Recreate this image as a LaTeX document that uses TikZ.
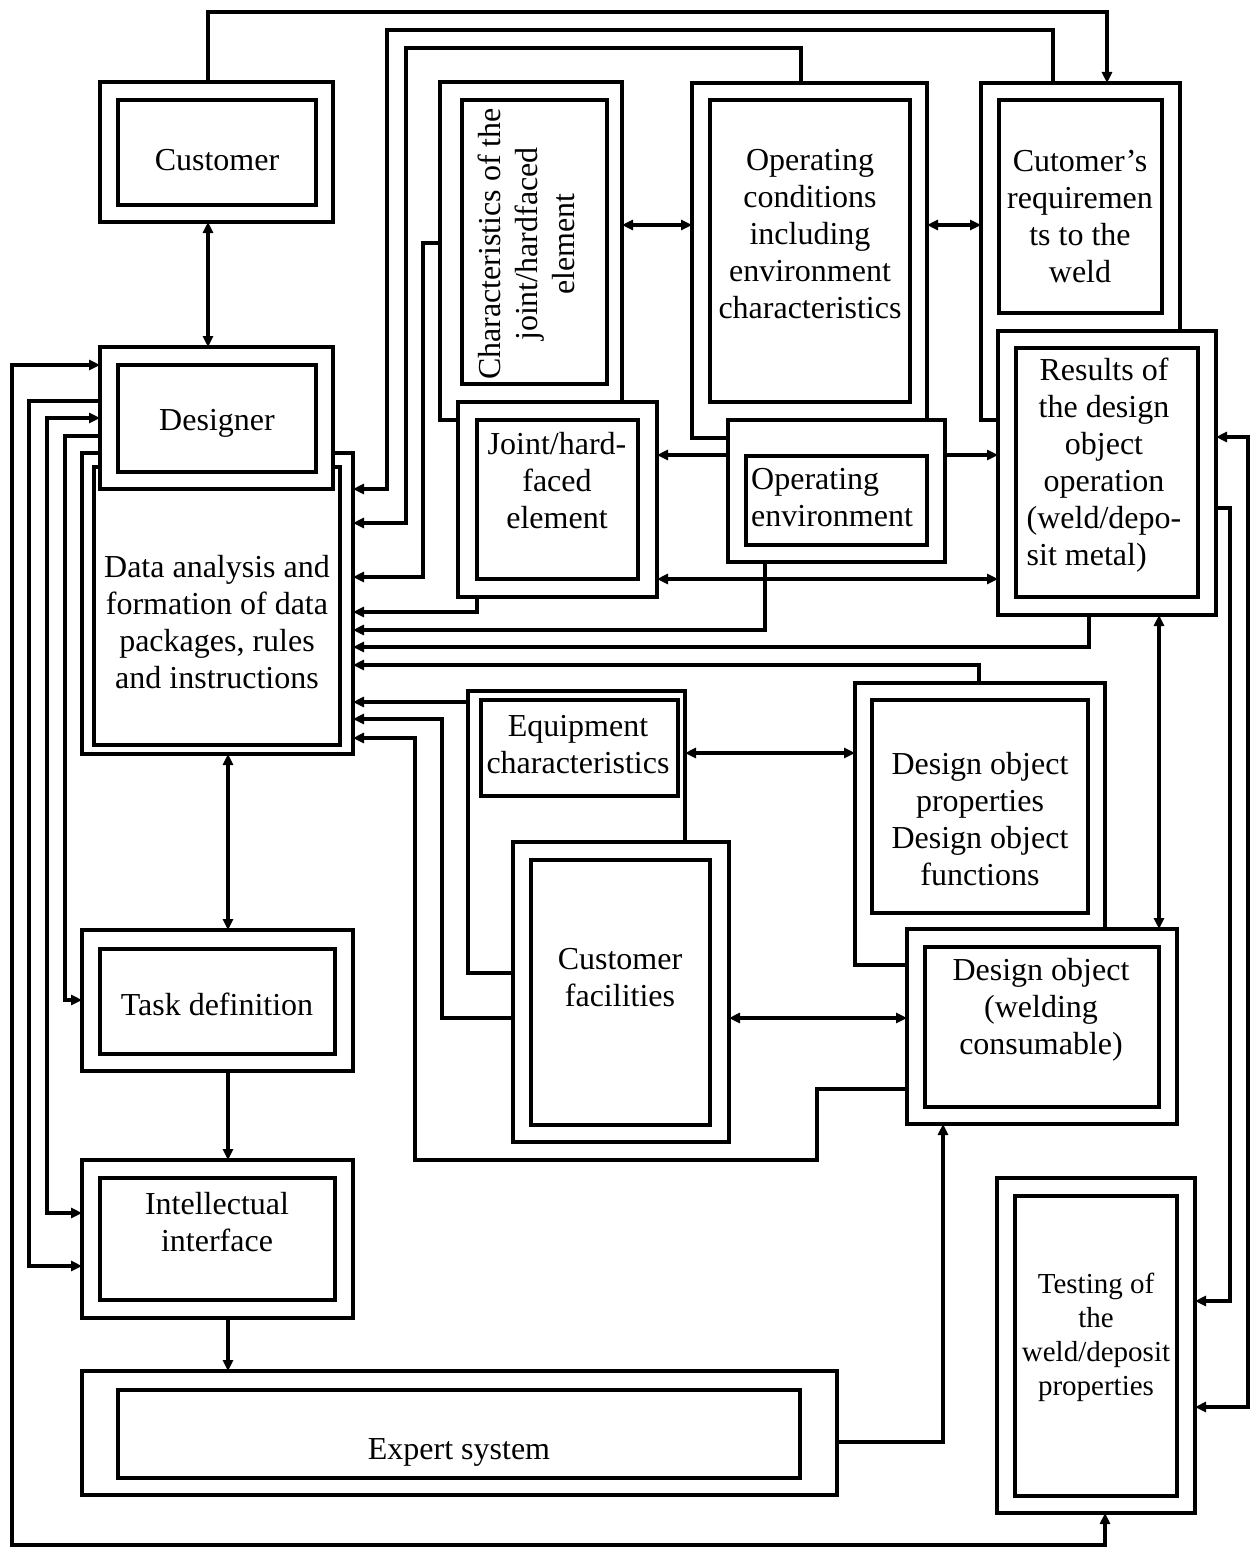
\documentclass[tikz,border=0pt]{standalone}
\usepackage{fontspec}
\setmainfont{Liberation Serif}
\usepackage{calc}
\usetikzlibrary{arrows.meta}
\newcommand{\bx}[6]{\node[#1, minimum width={#5-#3}, minimum height={#6-#4}] (#2) at ({(#3+#5)/2},{(#4+#6)/2}) {};}
\begin{document}
\begin{tikzpicture}[x=1pt,y=-1pt,
  obox/.style={draw,line width=4.3pt,fill=white,inner sep=0pt,outer sep=0pt},
  txt/.style={font=\fontsize{32}{37}\selectfont,align=center,inner sep=0pt},
  con/.style={line width=3.4pt},
  arr/.style={con,-{Triangle[length=11pt,width=10pt]}},
  darr/.style={con,{Triangle[length=11pt,width=10pt]}-{Triangle[length=11pt,width=10pt]}},
]
\useasboundingbox (0,0) rectangle (1253,1549);

% ---- boxes ----
\bx{obox}{cust}{100}{82}{333}{222}
\bx{obox}{custi}{118}{100}{316}{205}
\bx{obox}{da}{82}{453}{353}{754}
\bx{obox}{dai}{94}{467}{340}{745}
\bx{obox}{dsg}{100}{347}{333}{489}
\bx{obox}{dsgi}{118}{365}{316}{472}
\bx{obox}{chr}{440}{82}{622}{420}
\bx{obox}{chri}{462}{100}{607}{384}
\bx{obox}{jnt}{458}{402}{657}{597}
\bx{obox}{jnti}{477}{420}{638}{579}
\bx{obox}{opc}{692}{83}{927}{438}
\bx{obox}{opci}{710}{100}{910}{402}
\bx{obox}{ope}{728}{420}{945}{562}
\bx{obox}{opei}{746}{456}{927}{545}
\bx{obox}{crq}{981}{83}{1180}{420}
\bx{obox}{crqi}{999}{100}{1162}{313}
\bx{obox}{res}{998}{331}{1216}{615}
\bx{obox}{resi}{1016}{348}{1198}{597}
\bx{obox}{eqp}{468}{691}{685}{973}
\bx{obox}{eqpi}{481}{700}{678}{796}
\bx{obox}{cfc}{513}{842}{729}{1142}
\bx{obox}{cfci}{531}{860}{710}{1125}
\bx{obox}{dop}{855}{683}{1105}{965}
\bx{obox}{dopi}{872}{700}{1088}{913}
\bx{obox}{dob}{907}{929}{1177}{1124}
\bx{obox}{dobi}{925}{947}{1159}{1107}
\bx{obox}{tsk}{82}{930}{353}{1071}
\bx{obox}{tski}{100}{949}{335}{1054}
\bx{obox}{itf}{82}{1160}{353}{1318}
\bx{obox}{itfi}{100}{1178}{335}{1300}
\bx{obox}{exs}{82}{1371}{837}{1495}
\bx{obox}{exsi}{118}{1390}{800}{1478}
\bx{obox}{tst}{997}{1178}{1195}{1513}
\bx{obox}{tsti}{1015}{1196}{1177}{1496}

% ---- texts ----
\node[txt] (tcust) at (217,160) {Customer};
\node[txt] (tdsg) at (217,423) {Designer};
\node[txt] (tda) at (217,622) {Data analysis and\\formation of data\\packages, rules\\and instructions};
\node[txt,rotate=90] (tchr) at (526,244) {Characteristics of the\\joint/hardfaced\\element};
\node[txt] (topc) at (810,234) {Operating\\conditions\\including\\environment\\characteristics};
\node[txt] (tcrq) at (1080,217) {Cutomer's\\requiremen\\ts to the\\weld};
\node[txt] (tjnt) at (557,481) {Joint/hard-\\faced\\element};
\node[txt,align=left,anchor=west] (tope) at (751,498) {Operating\\environment};
\node[txt] (tres) at (1104,465) {Results of\\the design\\object\\operation\\(weld/depo-\\\makebox[\widthof{(weld/depo-}][l]{sit metal)}};
\node[txt] (teqp) at (578,745) {Equipment\\characteristics};
\node[txt] (tdop) at (980,819) {Design object\\properties\\Design object\\functions};
\node[txt] (tcfc) at (620,978) {Customer\\facilities};
\node[txt] (tdob) at (1041,1010) {Design object\\(welding\\consumable)};
\node[txt] (ttsk) at (217,1004) {Task definition};
\node[txt] (titf) at (217,1222) {Intellectual\\interface};
\node[txt] (texs) at (459,1452) {Expert system};
\node[txt,font=\fontsize{29}{34}\selectfont] (ttst) at (1096,1337) {Testing of\\the\\weld/deposit\\properties};

% ---- connectors ----
\draw[arr] (cust.north -| 208,0) -- (208,12) -| (crq.north -| 1107,0);
\draw[arr] (crq.north -| 1053,0) -- (1053,30) -| (387,489) -- (da.east |- 0,489);
\draw[arr] (opc.north -| 801,0) -- (801,48) -| (406,523) -- (da.east |- 0,523);
\draw[arr] (chr.west |- 0,243) -- (423,243) |- (da.east |- 0,577);
\draw[arr] (jnt.south -| 477,0) |- (da.east |- 0,612);
\draw[arr] (ope.south -| 765,0) |- (da.east |- 0,630);
\draw[arr] (res.south -| 1089,0) |- (da.east |- 0,647);
\draw[arr] (dop.north -| 979,0) |- (da.east |- 0,665);
\draw[arr] (eqp.west |- 0,702) -- (da.east |- 0,702);
\draw[arr] (cfc.west |- 0,1018) -- (442,1018) |- (da.east |- 0,719);
\draw[arr] (dob.west |- 0,1089) -| (817,1160) -| (415,738) -- (da.east |- 0,738);
\draw[darr] (chr.east |- 0,225) -- (opc.west |- 0,225);
\draw[darr] (opc.east |- 0,225) -- (crq.west |- 0,225);
\draw[arr] (ope.west |- 0,455) -- (jnt.east |- 0,455);
\draw[arr] (ope.east |- 0,455) -- (res.west |- 0,455);
\draw[darr] (jnt.east |- 0,579) -- (res.west |- 0,579);
\draw[darr] (res.south -| 1159,0) -- (dob.north -| 1159,0);
\draw[darr] (eqp.east |- 0,753) -- (dop.west |- 0,753);
\draw[darr] (cfc.east |- 0,1018) -- (dob.west |- 0,1018);
\draw[arr] (exs.east |- 0,1442) -| (dob.south -| 943,0);
\draw[arr] (res.east |- 0,508) -| (1230,1301) -- (tst.east |- 0,1301);
\draw[darr] (tst.east |- 0,1407) -| (1248,437) -- (res.east |- 0,437);
\draw[darr] (dsg.west |- 0,365) -| (12,1545) -| (tst.south -| 1105,0);
\draw[arr] (dsg.west |- 0,401) -| (29,1266) -- (itf.west |- 0,1266);
\draw[darr] (dsg.west |- 0,418) -| (47,1213) -- (itf.west |- 0,1213);
\draw[arr] (dsg.west |- 0,436) -| (65,1000) -- (tsk.west |- 0,1000);
\draw[darr] (cust.south -| 208,0) -- (dsg.north -| 208,0);
\draw[darr] (da.south -| 228,0) -- (tsk.north -| 228,0);
\draw[arr] (tsk.south -| 228,0) -- (itf.north -| 228,0);
\draw[arr] (itf.south -| 228,0) -- (exs.north -| 228,0);
\end{tikzpicture}
\end{document}
